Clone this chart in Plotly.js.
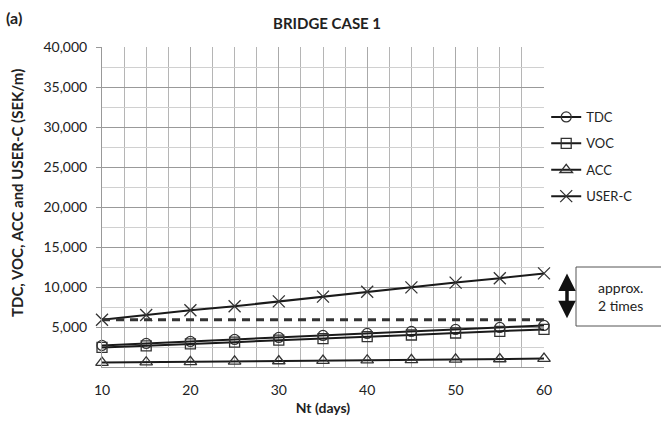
<!DOCTYPE html>
<html>
<head>
<meta charset="utf-8">
<script src="https://cdn.plot.ly/plotly-3.0.1.min.js"></script>
<style>html,body{margin:0;padding:0;background:#fff;}#chart{width:661px;height:432px;}</style>
</head>
<body>
<div id="chart"></div>
<script>
// ---- data ----
const nt = [10, 15, 20, 25, 30, 35, 40, 45, 50, 55, 60];
const tdc = [2700, 2950, 3200, 3450, 3700, 3950, 4200, 4450, 4700, 4950, 5200];
const voc = [2450, 2650, 2900, 3100, 3350, 3550, 3800, 4000, 4250, 4450, 4700];
const acc = [550, 600, 650, 700, 750, 800, 850, 900, 950, 1000, 1050];
const userC = [5900, 6500, 7100, 7600, 8200, 8800, 9400, 9950, 10550, 11100, 11700];
const xTickVals = [10, 20, 30, 40, 50, 60];
const yTickVals = [5000, 10000, 15000, 20000, 25000, 30000, 35000, 40000];
const seriesNames = ["TDC", "VOC", "ACC", "USER-C"];
const chartTitle = "BRIDGE CASE 1";
const panelLabel = "(a)";
const xTitle = "Nt (days)";
const yTitle = "TDC, VOC, ACC and USER-C (SEK/m)";
const boxText = "approx.<br>2 times";

const FONT = "Lato, 'Open Sans', sans-serif";
const W = 661, H = 432, L = 102, R = 117, T = 47, B = 65;
const pw = W - L - R, ph = H - T - B;
const px2x = p => (p - L) / pw;      // pixel -> paper x
const py2y = p => (H - B - p) / ph;  // pixel -> paper y

function mk(name, y, symbol, size, gi) {
  return {
    x: nt, y: y, name: name, type: "scatter", mode: "lines+markers",
    legendgroup: "g" + gi,
    line: {color: "#1a1a1a", width: 2},
    marker: {symbol: symbol, size: size, color: "#333", line: {color: "#333", width: 1.3}},
    cliponaxis: false
  };
}
const traces = [
  mk(seriesNames[0], tdc, "circle-open", 10, 0),
  mk(seriesNames[1], voc, "square-open", 10, 1),
  mk(seriesNames[2], acc, "triangle-up-open", 11, 2),
  mk(seriesNames[3], userC, "x-thin-open", 12, 3)
];

const layout = {
  width: W, height: H,
  margin: {l: L, r: R, t: T, b: B, pad: 0},
  paper_bgcolor: "#fff", plot_bgcolor: "#fff",
  font: {family: FONT, size: 14, color: "#222"},
  showlegend: true,
  legend: {x: 1.005, y: py2y(102), xanchor: "left", yanchor: "top",
           font: {family: FONT, size: 13, color: "#222"},
           tracegroupgap: 6.5, bgcolor: "rgba(0,0,0,0)", itemwidth: 30},
  xaxis: {
    range: [10, 60], tickmode: "array", tickvals: xTickVals,
    showgrid: true, gridcolor: "#aaa", gridwidth: 1,
    minor: {tickmode: "linear", tick0: 10, dtick: 2.5, showgrid: true, gridcolor: "#b5b5b5", gridwidth: 1, ticklen: 0},
    showline: true, linecolor: "#999", linewidth: 1, zeroline: false,
    ticks: "", ticklabelstandoff: 10,
    tickfont: {family: FONT, size: 14, color: "#222"},
    title: {text: "<b>" + xTitle + "</b>", font: {family: FONT, size: 14, color: "#222"}, standoff: 6}
  },
  yaxis: {
    range: [0, 40000], tickmode: "array", tickvals: yTickVals, tickformat: ",d",
    showgrid: true, gridcolor: "#999", gridwidth: 1,
    minor: {tickmode: "linear", tick0: 0, dtick: 2500, showgrid: true, gridcolor: "#d0d0d0", gridwidth: 1, ticklen: 0},
    showline: true, linecolor: "#999", linewidth: 1, zeroline: false,
    ticks: "outside", ticklen: 5, tickcolor: "#999", ticklabelstandoff: 6,
    tickfont: {family: FONT, size: 14, color: "#222"}
  },
  shapes: [
    {type: "line", xref: "x", yref: "y", x0: nt[0], x1: nt[nt.length - 1] + 1.1,
     y0: userC[0], y1: userC[0], line: {color: "#333", width: 3, dash: "8px,6px"}, layer: "above"},
    {type: "rect", xref: "paper", yref: "paper", x0: px2x(576), x1: px2x(680),
     y0: py2y(326), y1: py2y(267), line: {color: "#555", width: 1}, fillcolor: "rgba(0,0,0,0)"}
  ],
  annotations: [
    {text: "<b>" + chartTitle + "</b>", xref: "paper", yref: "paper", x: px2x(327), y: py2y(23),
     xanchor: "center", yanchor: "middle", showarrow: false, font: {family: FONT, size: 15, color: "#222"}},
    {text: "<b>" + panelLabel + "</b>", xref: "paper", yref: "paper", x: px2x(4), y: py2y(17),
     xanchor: "left", yanchor: "middle", showarrow: false, font: {family: FONT, size: 16, color: "#222"}},
    {text: "<b>" + yTitle + "</b>", xref: "paper", yref: "paper", x: px2x(17), y: py2y(193),
     xanchor: "center", yanchor: "middle", textangle: -90, showarrow: false, font: {family: FONT, size: 15, color: "#222"}},
    {text: boxText, xref: "paper", yref: "paper", x: px2x(620), y: py2y(296.5),
     xanchor: "center", yanchor: "middle", showarrow: false, font: {family: FONT, size: 14, color: "#222"}},
    {x: px2x(567), y: userC[userC.length - 1], xref: "paper", yref: "y",
     ax: 0, ay: userC[0], axref: "pixel", ayref: "y",
     text: "", showarrow: true, arrowhead: 2, startarrowhead: 2, arrowside: "end+start",
     arrowwidth: 3.5, arrowsize: 1, startarrowsize: 1, arrowcolor: "#111", standoff: 0, startstandoff: 0}
  ]
};

Plotly.newPlot("chart", traces, layout, {staticPlot: true, displayModeBar: false});
</script>
</body>
</html>
